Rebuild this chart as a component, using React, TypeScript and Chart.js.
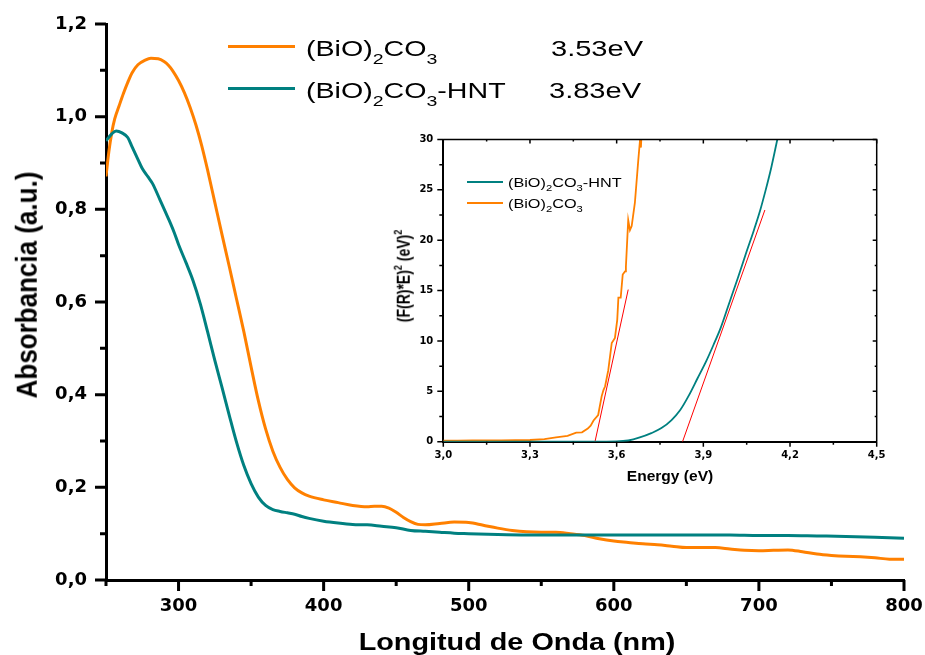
import React, { useEffect, useRef } from 'react';
import { Chart, registerables } from 'chart.js';

Chart.register(...registerables);

// ---------- Main chart data (wavelength in nm, absorbance in a.u.) ----------
const orangeWavelength = [250, 252, 254, 256, 259, 262, 265, 268, 272, 277, 281, 286, 290, 293, 296, 300, 304, 308, 312, 316, 320, 325, 330, 335, 340, 345, 350, 355, 360, 365, 370, 375, 380, 385, 390, 400, 410, 420, 430, 435, 440, 445, 450, 455, 460, 465, 470, 480, 490, 500, 510, 520, 530, 540, 550, 560, 570, 580, 590, 600, 610, 620, 630, 640, 650, 660, 670, 680, 690, 700, 710, 720, 730, 740, 750, 760, 770, 780, 790, 800];
const orangeAbs = [0.871, 0.925, 0.966, 0.995, 1.023, 1.050, 1.074, 1.095, 1.112, 1.122, 1.126, 1.125, 1.119, 1.111, 1.099, 1.078, 1.052, 1.020, 0.982, 0.937, 0.885, 0.815, 0.745, 0.676, 0.606, 0.536, 0.460, 0.387, 0.326, 0.278, 0.243, 0.217, 0.199, 0.188, 0.181, 0.173, 0.167, 0.161, 0.158, 0.159, 0.159, 0.155, 0.146, 0.135, 0.126, 0.120, 0.119, 0.122, 0.125, 0.124, 0.118, 0.112, 0.107, 0.104, 0.103, 0.103, 0.100, 0.096, 0.089, 0.084, 0.081, 0.078, 0.076, 0.073, 0.070, 0.070, 0.070, 0.067, 0.064, 0.063, 0.064, 0.065, 0.061, 0.056, 0.053, 0.051, 0.050, 0.048, 0.045, 0.045];

const tealWavelength = [250, 254, 257, 261, 265, 268, 272, 275, 279, 282, 287, 293, 297, 300, 305, 310, 315, 320, 325, 330, 335, 340, 345, 350, 355, 360, 365, 370, 375, 380, 385, 390, 400, 410, 420, 430, 440, 450, 460, 470, 480, 490, 500, 520, 540, 560, 580, 600, 620, 640, 660, 680, 700, 720, 740, 760, 780, 800];
const tealAbs = [0.948, 0.963, 0.969, 0.965, 0.955, 0.935, 0.908, 0.888, 0.870, 0.856, 0.822, 0.780, 0.750, 0.724, 0.686, 0.646, 0.596, 0.536, 0.474, 0.415, 0.355, 0.297, 0.247, 0.208, 0.179, 0.161, 0.152, 0.148, 0.145, 0.142, 0.137, 0.133, 0.127, 0.123, 0.120, 0.119, 0.116, 0.113, 0.107, 0.105, 0.103, 0.101, 0.100, 0.098, 0.097, 0.097, 0.097, 0.097, 0.097, 0.097, 0.097, 0.097, 0.096, 0.096, 0.095, 0.094, 0.092, 0.090];

// ---------- Inset data (energy in eV, (F(R)*E)^2) ----------
const insetOrangeEnergy = [3.00, 3.05, 3.10, 3.15, 3.20, 3.25, 3.30, 3.35, 3.39, 3.43, 3.46, 3.48, 3.50, 3.51, 3.52, 3.536, 3.548, 3.554, 3.56, 3.571, 3.583, 3.594, 3.602, 3.606, 3.614, 3.621, 3.629, 3.632, 3.64, 3.646, 3.652, 3.663, 3.675, 3.681, 3.684, 3.686];
const insetOrangeValue = [0.10, 0.10, 0.12, 0.12, 0.14, 0.15, 0.17, 0.25, 0.44, 0.57, 0.90, 0.93, 1.30, 1.60, 2.10, 2.65, 4.50, 5.10, 5.50, 7.10, 9.80, 10.30, 12.10, 14.30, 14.30, 16.60, 16.90, 17.40, 22.00, 21.00, 21.40, 23.70, 28.00, 30.00, 29.20, 30.50];

const insetTealEnergy = [3.00, 3.30, 3.50, 3.60, 3.64, 3.68, 3.72, 3.755, 3.79, 3.82, 3.85, 3.88, 3.91, 3.935, 3.96, 3.99, 4.02, 4.05, 4.075, 4.096, 4.115, 4.135, 4.156];
const insetTealValue = [0, 0, 0.01, 0.03, 0.12, 0.42, 0.85, 1.35, 2.15, 3.15, 4.6, 6.3, 8.0, 9.6, 11.3, 13.8, 16.3, 18.9, 21.0, 22.9, 24.9, 27.2, 30.0];

const fitOrangeEnergy = [3.525, 3.64];
const fitOrangeValue = [0, 15.1];
const fitTealEnergy = [3.828, 4.113];
const fitTealValue = [0, 23.0];

// ---------- Labels ----------
const seriesNames = ['(BiO)2CO3', '(BiO)2CO3-HNT'];
const bandGaps = ['3.53eV', '3.83eV'];
const xTitle = 'Longitud de Onda (nm)';
const yTitle = 'Absorbancia (a.u.)';
const insetXTitle = 'Energy (eV)';

const ORANGE = '#FF8000';
const TEAL = '#008080';
const RED = '#FF0000';

const pairs = (xs: number[], ys: number[]) => xs.map((x, i) => ({ x, y: ys[i] }));

const mainTicksPlugin = {
  id: 'mainTicks',
  afterDraw(chart: any) {
    const { ctx, chartArea: a, scales } = chart;
    const x = scales.x;
    const y = scales.y;
    ctx.save();
    ctx.strokeStyle = '#000';
    ctx.lineWidth = 3;
    ctx.beginPath();
    x.ticks.forEach((t: any) => {
      const px = x.getPixelForValue(t.value);
      ctx.moveTo(px, a.bottom);
      ctx.lineTo(px, a.bottom + (t.label ? 11 : 6));
    });
    y.ticks.forEach((t: any) => {
      const py = y.getPixelForValue(t.value);
      ctx.moveTo(a.left, py);
      ctx.lineTo(a.left - (t.label ? 11 : 6), py);
    });
    ctx.stroke();
    ctx.restore();
  },
};

const insetFramePlugin = {
  id: 'insetFrame',
  afterDraw(chart: any) {
    const { ctx, chartArea: a, scales } = chart;
    const x = scales.x;
    const y = scales.y;
    ctx.save();
    ctx.strokeStyle = '#000';
    ctx.lineWidth = 1.5;
    ctx.beginPath();
    ctx.moveTo(a.left, a.top);
    ctx.lineTo(a.right, a.top);
    ctx.lineTo(a.right, a.bottom);
    ctx.stroke();
    ctx.beginPath();
    x.ticks.forEach((t: any) => {
      const px = x.getPixelForValue(t.value);
      ctx.moveTo(px, a.bottom);
      ctx.lineTo(px, a.bottom + (t.label ? 5 : 3));
      ctx.moveTo(px, a.top);
      ctx.lineTo(px, a.top + (t.label ? 4 : 2));
    });
    y.ticks.forEach((t: any) => {
      const py = y.getPixelForValue(t.value);
      ctx.moveTo(a.left, py);
      ctx.lineTo(a.left - (t.label ? 6 : 4), py);
      ctx.moveTo(a.right, py);
      ctx.lineTo(a.right - (t.label ? 4 : 2), py);
    });
    ctx.stroke();
    ctx.restore();
  },
};

const tickFont = { family: "'DejaVu Sans', sans-serif", size: 18, weight: 'bold' as const, lineHeight: 1.2 };
const insetTickFont = { family: "'DejaVu Sans', sans-serif", size: 10, weight: 'bold' as const, lineHeight: 1.2 };

const SANS = "'Liberation Sans', Arial, sans-serif";

function Formula({ name, subSize, subTop }: { name: string; subSize: number; subTop: number }) {
  const m = name.match(/^\(BiO\)2CO3(.*)$/);
  const rest = m ? m[1] : '';
  const sub: React.CSSProperties = { fontSize: subSize, position: 'relative', top: subTop, verticalAlign: 'baseline', lineHeight: 1 };
  return (
    <>
      (BiO)<span style={sub}>2</span>CO<span style={sub}>3</span>{rest}
    </>
  );
}

export default function App() {
  const mainRef = useRef<HTMLCanvasElement>(null);
  const insetRef = useRef<HTMLCanvasElement>(null);

  useEffect(() => {
    const main = new Chart(mainRef.current as HTMLCanvasElement, {
      type: 'line',
      data: {
        datasets: [
          {
            label: seriesNames[1],
            data: pairs(tealWavelength, tealAbs),
            borderColor: TEAL,
            borderWidth: 3,
            pointRadius: 0,
            cubicInterpolationMode: 'monotone',
          },
          {
            label: seriesNames[0],
            data: pairs(orangeWavelength, orangeAbs),
            borderColor: ORANGE,
            borderWidth: 3,
            pointRadius: 0,
            cubicInterpolationMode: 'monotone',
          },
        ],
      },
      options: {
        animation: false,
        responsive: true,
        maintainAspectRatio: false,
        layout: { padding: { left: 0, top: 24, right: 21, bottom: 0 }, autoPadding: false },
        plugins: { legend: { display: false }, tooltip: { enabled: false } },
        scales: {
          x: {
            type: 'linear',
            min: 250,
            max: 800,
            grid: { display: false, tickLength: 10 },
            border: { display: true, color: '#000', width: 3 },
            ticks: {
              stepSize: 50,
              autoSkip: false,
              maxRotation: 0,
              padding: 6,
              color: '#000',
              font: tickFont,
              callback: (v: any) => (Math.round(v) % 100 === 0 ? String(Math.round(v)) : ''),
            },
            afterFit: (s: any) => {
              s.height = 75;
              s.paddingLeft = 0;
              s.paddingRight = 0;
            },
          },
          y: {
            type: 'linear',
            min: 0,
            max: 1.2,
            grid: { display: false, tickLength: 10 },
            border: { display: true, color: '#000', width: 3 },
            ticks: {
              stepSize: 0.1,
              autoSkip: false,
              padding: 9,
              color: '#000',
              font: tickFont,
              callback: (v: any) => (Math.round(v * 10) % 2 === 0 ? Number(v).toFixed(1).replace('.', ',') : ''),
            },
            afterFit: (s: any) => {
              s.width = 106;
              s.paddingTop = 0;
              s.paddingBottom = 0;
            },
          },
        },
      },
      plugins: [mainTicksPlugin],
    } as any);

    const inset = new Chart(insetRef.current as HTMLCanvasElement, {
      type: 'line',
      data: {
        datasets: [
          {
            label: seriesNames[1],
            data: pairs(insetTealEnergy, insetTealValue),
            borderColor: TEAL,
            borderWidth: 1.8,
            pointRadius: 0,
            cubicInterpolationMode: 'monotone',
          },
          {
            label: seriesNames[0],
            data: pairs(insetOrangeEnergy, insetOrangeValue),
            borderColor: ORANGE,
            borderWidth: 1.8,
            pointRadius: 0,
            tension: 0,
          },
          {
            label: 'fit1',
            data: pairs(fitOrangeEnergy, fitOrangeValue),
            borderColor: RED,
            borderWidth: 1,
            pointRadius: 0,
          },
          {
            label: 'fit2',
            data: pairs(fitTealEnergy, fitTealValue),
            borderColor: RED,
            borderWidth: 1,
            pointRadius: 0,
          },
        ],
      },
      options: {
        animation: false,
        responsive: true,
        maintainAspectRatio: false,
        layout: { padding: { left: 0, top: 19.5, right: 23.3, bottom: 0 }, autoPadding: false },
        plugins: { legend: { display: false }, tooltip: { enabled: false } },
        scales: {
          x: {
            type: 'linear',
            min: 3.0,
            max: 4.5,
            grid: { display: false, tickLength: 5 },
            border: { display: true, color: '#000', width: 2 },
            ticks: {
              stepSize: 0.15,
              autoSkip: false,
              maxRotation: 0,
              padding: 2.6,
              color: '#000',
              font: insetTickFont,
              callback: (v: any) => (Math.round(v * 100) % 30 === 0 ? Number(v).toFixed(1).replace('.', ',') : ''),
            },
            afterFit: (s: any) => {
              s.height = 48.3;
              s.paddingLeft = 0;
              s.paddingRight = 0;
            },
          },
          y: {
            type: 'linear',
            min: 0,
            max: 30,
            grid: { display: false, tickLength: 6 },
            border: { display: true, color: '#000', width: 2 },
            ticks: {
              stepSize: 2.5,
              autoSkip: false,
              padding: 4,
              color: '#000',
              font: insetTickFont,
              callback: (v: any) => (Math.round(v * 10) % 50 === 0 ? String(Math.round(v)) : ''),
            },
            afterFit: (s: any) => {
              s.width = 63.3;
              s.paddingTop = 0;
              s.paddingBottom = 0;
            },
          },
        },
      },
      plugins: [insetFramePlugin],
    } as any);

    return () => {
      main.destroy();
      inset.destroy();
    };
  }, []);

  const abs: React.CSSProperties = { position: 'absolute', whiteSpace: 'nowrap', color: '#000' };
  const sup: React.CSSProperties = { fontSize: 9, position: 'relative', top: -6, verticalAlign: 'baseline', lineHeight: 1 };

  return (
    <div style={{ position: 'fixed', left: 0, top: 0, width: 925, height: 655, background: '#fff', overflow: 'hidden' }}>
      <div style={{ position: 'absolute', left: 0, top: 0, width: 925, height: 655 }}>
        <canvas ref={mainRef} />
      </div>
      <div style={{ position: 'absolute', left: 380, top: 120, width: 520, height: 370 }}>
        <canvas ref={insetRef} />
      </div>

      {/* Main axis titles */}
      <div
        style={{
          ...abs,
          left: 516.5,
          top: 641.5,
          fontFamily: SANS,
          fontWeight: 'bold',
          fontSize: 24,
          lineHeight: '24px',
          transform: 'translate(-50%, -50%) scaleX(1.2)',
        }}
      >
        {xTitle}
      </div>
      <div
        style={{
          ...abs,
          left: 26,
          top: 285,
          fontFamily: SANS,
          fontWeight: 'bold',
          fontSize: 26,
          lineHeight: '26px',
          transform: 'translate(-50%, -50%) rotate(-90deg) scaleY(1.15)',
        }}
      >
        {yTitle}
      </div>

      {/* Main legend */}
      <div style={{ position: 'absolute', left: 228, top: 45, width: 67, height: 3, background: ORANGE }} />
      <div style={{ position: 'absolute', left: 228, top: 87, width: 67, height: 3, background: TEAL }} />
      <div style={{ ...abs, left: 306, top: 38.1, fontFamily: SANS, fontSize: 22, lineHeight: '22px', transform: 'scaleX(1.3)', transformOrigin: 'left center' }}>
        <Formula name={seriesNames[0]} subSize={15} subTop={8.3} />
      </div>
      <div style={{ ...abs, left: 551, top: 38.1, fontFamily: SANS, fontSize: 22, lineHeight: '22px', transform: 'scaleX(1.32)', transformOrigin: 'left center' }}>
        {bandGaps[0]}
      </div>
      <div style={{ ...abs, left: 306, top: 79.7, fontFamily: SANS, fontSize: 22, lineHeight: '22px', transform: 'scaleX(1.3)', transformOrigin: 'left center' }}>
        <Formula name={seriesNames[1]} subSize={15} subTop={8.3} />
      </div>
      <div style={{ ...abs, left: 549, top: 79.7, fontFamily: SANS, fontSize: 22, lineHeight: '22px', transform: 'scaleX(1.32)', transformOrigin: 'left center' }}>
        {bandGaps[1]}
      </div>

      {/* Inset legend */}
      <div style={{ position: 'absolute', left: 466.7, top: 180.7, width: 36.6, height: 2, background: TEAL }} />
      <div style={{ position: 'absolute', left: 466.7, top: 202.3, width: 36.6, height: 2, background: ORANGE }} />
      <div style={{ ...abs, left: 508.3, top: 175.7, fontFamily: SANS, fontSize: 13, lineHeight: '13px', transform: 'scaleX(1.25)', transformOrigin: 'left center' }}>
        <Formula name={seriesNames[1]} subSize={9} subTop={4} />
      </div>
      <div style={{ ...abs, left: 508.3, top: 197.3, fontFamily: SANS, fontSize: 13, lineHeight: '13px', transform: 'scaleX(1.25)', transformOrigin: 'left center' }}>
        <Formula name={seriesNames[0]} subSize={9} subTop={4} />
      </div>

      {/* Inset axis titles */}
      <div
        style={{
          ...abs,
          left: 670,
          top: 476,
          fontFamily: SANS,
          fontWeight: 'bold',
          fontSize: 14,
          lineHeight: '14px',
          transform: 'translate(-50%, -50%) scaleX(1.11)',
        }}
      >
        {insetXTitle}
      </div>
      <div
        style={{
          ...abs,
          left: 403,
          top: 276,
          fontFamily: SANS,
          fontWeight: 'bold',
          fontSize: 14,
          lineHeight: '14px',
          transform: 'translate(-50%, -50%) rotate(-90deg) scaleY(1.25)',
        }}
      >
        (F(R)*E)<span style={sup}>2</span> (eV)<span style={sup}>2</span>
      </div>
    </div>
  );
}
